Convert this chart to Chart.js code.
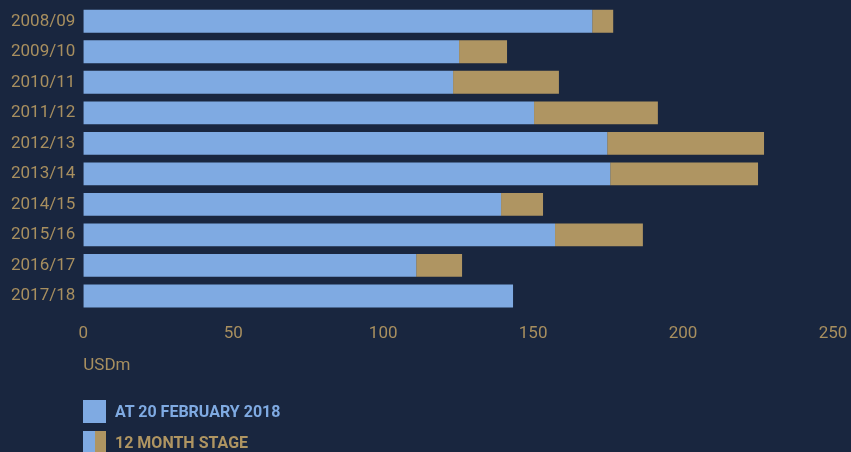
<!DOCTYPE html>
<html>
<head>
<meta charset="utf-8">
<script src="https://cdn.jsdelivr.net/npm/chart.js@4.4.1/dist/chart.umd.min.js"></script>
<style>
    html, body { margin: 0; padding: 0; background: #19263f; }
    #wrap { position: relative; width: 851px; height: 452px; overflow: hidden; }
    #legend { position: absolute; left: 83px; top: 400px; font-family: Roboto, sans-serif; font-weight: 700; font-size: 16px; }
    .item { display: flex; align-items: center; height: 23px; margin-bottom: 8px; }
    .swatch { width: 23px; height: 23px; display: flex; margin-right: 9px; }
    .swatch span { flex: 1; }
</style>
</head>
<body>
<div id="wrap">
    <canvas id="chart" width="851" height="452"></canvas>
    <div id="legend"></div>
</div>
<script>
// --- Data ---
const seasons = ['2008/09', '2009/10', '2010/11', '2011/12', '2012/13', '2013/14', '2014/15', '2015/16', '2016/17', '2017/18'];
const atFeb2018 = [169.7, 125.3, 123.3, 150.3, 174.7, 175.7, 139.3, 157.3, 111, 143.3];
const twelveMonthExtra = [7, 16, 35.3, 41.3, 52.3, 49.3, 14, 29.3, 15.3, 0];
const xTicks = [0, 50, 100, 150, 200, 250];

const BLUE = '#7faae2';
const TAN = '#af9562';
const LABEL = '#a88f5f';

// --- Legend (HTML) ---
const legendEl = document.getElementById('legend');
const legendItems = [
    { text: 'AT 20 FEBRUARY 2018', colors: [BLUE], textColor: BLUE },
    { text: '12 MONTH STAGE', colors: [BLUE, TAN], textColor: TAN }
];
legendItems.forEach(item => {
    const row = document.createElement('div');
    row.className = 'item';
    const sw = document.createElement('div');
    sw.className = 'swatch';
    item.colors.forEach(c => {
        const s = document.createElement('span');
        s.style.background = c;
        sw.appendChild(s);
    });
    const label = document.createElement('span');
    label.textContent = item.text;
    label.style.color = item.textColor;
    row.appendChild(sw);
    row.appendChild(label);
    legendEl.appendChild(row);
});

// scales add room for half of their end labels; the layout padding handles it here
const noEdgePadding = axis => {
    axis.paddingTop = 0;
    axis.paddingBottom = 0;
    axis.paddingLeft = 0;
    axis.paddingRight = 0;
};

// --- Chart ---
new Chart(document.getElementById('chart'), {
    type: 'bar',
    data: {
        labels: seasons,
        datasets: [
            { label: 'At 20 February 2018', data: atFeb2018, backgroundColor: BLUE, barPercentage: 0.75, categoryPercentage: 1 },
            { label: '12 month stage', data: twelveMonthExtra, backgroundColor: TAN, barPercentage: 0.75, categoryPercentage: 1 }
        ]
    },
    options: {
        indexAxis: 'y',
        responsive: false,
        animation: false,
        layout: { padding: { top: 6, left: 3, right: 18, bottom: 72 } },
        plugins: { legend: { display: false }, tooltip: { enabled: false } },
        scales: {
            x: {
                stacked: true,
                min: 0,
                max: 250,
                afterBuildTicks: axis => { axis.ticks = xTicks.map(v => ({ value: v })); },
                afterFit: noEdgePadding,
                grid: { display: false, drawTicks: false },
                border: { display: false },
                ticks: { color: LABEL, font: { family: 'Roboto', size: 17 }, padding: 12 },
                title: { display: true, text: 'USDm', align: 'start', color: LABEL, font: { family: 'Roboto', size: 17 }, padding: { top: 0, bottom: 4 } }
            },
            y: {
                stacked: true,
                afterFit: noEdgePadding,
                grid: { display: false, drawTicks: false },
                border: { display: false },
                ticks: { color: LABEL, font: { family: 'Roboto', size: 17 }, padding: 8 }
            }
        }
    }
});
</script>
</body>
</html>
